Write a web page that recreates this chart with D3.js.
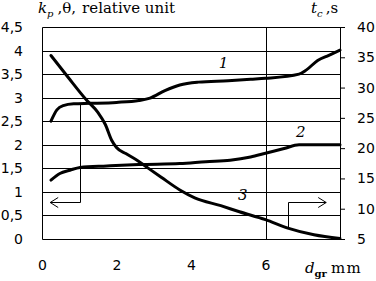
<!DOCTYPE html>
<html><head><meta charset="utf-8">
<script src="https://cdn.jsdelivr.net/npm/d3@7"></script>
<style>
html,body{margin:0;padding:0;background:#fff;}
svg{display:block;}
.serif{font-family:"DejaVu Serif","Liberation Serif",serif;}
</style></head>
<body>
<svg id="c" width="376" height="281"></svg>
<script>
// ---- data ----
const leftTicks = [0,0.5,1,1.5,2,2.5,3,3.5,4,4.5];
const rightTicks = [5,10,15,20,25,30,35,40];
const xTicks = [0,2,4,6];
const xGrid = [6];
// curve 1: k_p (left axis)
const curve1X = [0.24,0.4,0.57,0.85,1.3,2.0,2.6,2.9,3.3,3.7,4.2,5.0,5.6,6.0,6.9,7.1,7.4,7.7,8.0];
const curve1Y = [2.5,2.74,2.83,2.87,2.88,2.9,2.94,2.99,3.15,3.27,3.33,3.36,3.39,3.41,3.5,3.59,3.79,3.9,4.01];
// curve 2: theta (left axis)
const curve2X = [0.24,0.48,0.75,1.02,1.74,2.6,3.7,4.4,5.05,5.6,6.0,6.5,6.9,7.3,8.0];
const curve2Y = [1.25,1.39,1.46,1.52,1.55,1.58,1.6,1.64,1.67,1.74,1.82,1.92,2.0,2.0,2.0];
// curve 3: t_c (right axis, s)
const curve3X = [0.24,0.7,1.2,1.5,1.7,1.87,2.0,2.25,2.55,2.85,3.2,3.7,4.1,4.8,5.3,6.0,6.6,7.3,8.0];
const curve3Y = [35.3,31.7,27.9,25.9,23.9,21.3,20.1,19.1,18.0,16.7,15.2,13.1,11.8,10.5,9.5,8.2,6.8,5.7,5.1];
const curveNames = ["1","2","3"];
const labelX = [4.87,6.95,5.39];
const labelYLeft = [3.62,2.17,0.83];
// arrows (data units)
const arrowLeft = {xv:1.02, yFrom:2.88, yTo:0.79, xTip:0.22};
const arrowRight = {xv:6.61, yFromT:6.8, yTo:0.79, xTip:7.63};

// ---- scales ----
const svg = d3.select("#c");
const x = d3.scaleLinear().domain([0,8]).range([42,340]);
const yL = d3.scaleLinear().domain([0,4.5]).range([239,27]);
const yR = d3.scaleLinear().domain([5,40]).range([239,27]);
const snap = v => Math.round(v)+0.5;

// gridlines
svg.append("g").selectAll("line").data(leftTicks).join("line")
  .attr("x1", snap(x(0))).attr("x2", snap(x(8)))
  .attr("y1", d=>snap(yL(d))).attr("y2", d=>snap(yL(d)))
  .attr("stroke","#000").attr("stroke-width",1);
svg.append("g").selectAll("line").data(xGrid).join("line")
  .attr("x1", d=>snap(x(d))).attr("x2", d=>snap(x(d)))
  .attr("y1", snap(yL(4.5))).attr("y2", snap(yL(0)))
  .attr("stroke","#000");
// frame
svg.append("line").attr("x1",snap(x(0))).attr("x2",snap(x(0))).attr("y1",snap(yL(4.5))).attr("y2",snap(yL(0))).attr("stroke","#000");
svg.append("line").attr("x1",snap(x(8))).attr("x2",snap(x(8))).attr("y1",snap(yL(4.5))).attr("y2",snap(yL(0))).attr("stroke","#000");

const fmt = d => String(d).replace(".", ",");
// left axis
const gl = svg.append("g").attr("transform",`translate(${x(0)},0)`)
  .call(d3.axisLeft(yL).tickValues(leftTicks).tickSize(0).tickPadding(19).tickFormat(fmt));
gl.select(".domain").remove();
// right axis
const gr = svg.append("g").attr("transform",`translate(${snap(x(8))-0.5},0)`)
  .call(d3.axisRight(yR).tickValues(rightTicks).tickSize(5).tickPadding(12).tickFormat(d=>d));
gr.select(".domain").remove();
gr.selectAll(".tick line").attr("stroke","#000");
// bottom axis
const gb = svg.append("g").attr("transform",`translate(0,${yL(0)})`)
  .call(d3.axisBottom(x).tickValues(xTicks).tickSize(0).tickPadding(21).tickFormat(d=>d));
gb.select(".domain").remove();
svg.selectAll(".tick text").attr("font-family","DejaVu Sans").attr("font-size",14).attr("fill","#000");

// curves
const line = (sy) => d3.line().x(d=>x(d[0])).y(d=>sy(d[1])).curve(d3.curveMonotoneX);
const series = [
  {pts: d3.zip(curve1X, curve1Y), sy: yL},
  {pts: d3.zip(curve2X, curve2Y), sy: yL},
  {pts: d3.zip(curve3X, curve3Y), sy: yR}
];
svg.append("g").selectAll("path").data(series).join("path")
  .attr("d", s => line(s.sy)(s.pts))
  .attr("fill","none").attr("stroke","#000").attr("stroke-width",3)
  .attr("stroke-linejoin","round").attr("stroke-linecap","round");

// curve labels
svg.append("g").selectAll("text").data(curveNames).join("text")
  .attr("class","serif")
  .attr("x",(d,i)=>x(labelX[i])).attr("y",(d,i)=>yL(labelYLeft[i]))
  .attr("text-anchor","middle")
  .attr("font-style","italic").attr("font-size",15).text(d=>d);

// arrows
const ag = svg.append("g").attr("fill","none").attr("stroke","#000").attr("stroke-width",1);
{
  const xv = snap(x(arrowLeft.xv)), yt = yL(arrowLeft.yFrom), yb = snap(yL(arrowLeft.yTo)), xt = x(arrowLeft.xTip);
  ag.append("path").attr("d",`M${xv},${yt}V${yb}H${xt}`);
  ag.append("path").attr("d",`M${xt+8},${yb-5}L${xt},${yb}L${xt+8},${yb+5}`);
}
{
  const xv = snap(x(arrowRight.xv)), yt = yR(arrowRight.yFromT), yb = snap(yL(arrowRight.yTo)), xt = x(arrowRight.xTip);
  ag.append("path").attr("d",`M${xv},${yt}V${yb}H${xt}`);
  ag.append("path").attr("d",`M${xt-8},${yb-5}L${xt},${yb}L${xt-8},${yb+5}`);
}

// titles
const t1 = svg.append("text").attr("class","serif").attr("x",38).attr("y",13).attr("font-size",15);
t1.append("tspan").attr("font-style","italic").text("k");
t1.append("tspan").attr("font-style","italic").attr("font-size",10).attr("dy",4).text("p");
t1.append("tspan").attr("dy",-4).attr("dx",4).text(",θ,");
t1.append("tspan").attr("dx",6).text("relative unit");

const t2 = svg.append("text").attr("class","serif").attr("x",311).attr("y",13).attr("font-size",15);
t2.append("tspan").attr("font-style","italic").text("t");
t2.append("tspan").attr("font-style","italic").attr("font-size",10).attr("dy",4).text("c");
t2.append("tspan").attr("dy",-4).attr("dx",3).text(",s");

const t3 = svg.append("text").attr("class","serif").attr("x",305).attr("y",273).attr("font-size",15);
t3.append("tspan").attr("font-style","italic").text("d");
t3.append("tspan").attr("font-size",10).attr("dy",4).attr("font-weight","bold").text("gr");
t3.append("tspan").attr("dy",-4).attr("dx",4).attr("letter-spacing",1.5).text("mm");
</script>
</body></html>
